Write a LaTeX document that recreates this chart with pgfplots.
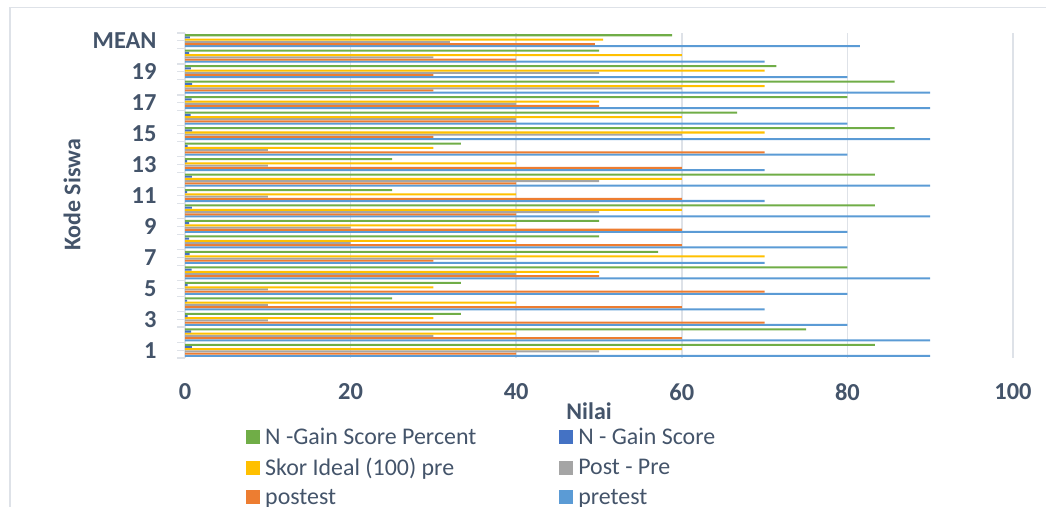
\documentclass[border=0pt]{standalone}
\usepackage{pgfplots}
\pgfplotsset{compat=1.18}
\usepackage{pgfplotstable}
\usepackage{fontspec}
\setmainfont{Carlito}
\definecolor{cpre}{HTML}{5B9BD5}
\definecolor{cpost}{HTML}{ED7D31}
\definecolor{cdiff}{HTML}{A5A5A5}
\definecolor{cideal}{HTML}{FFC000}
\definecolor{cng}{HTML}{4472C4}
\definecolor{cngp}{HTML}{70AD47}
\definecolor{txt}{HTML}{44546A}
\definecolor{gridc}{RGB}{222,226,232}
\pgfplotstableread{
cat pre post diff ideal ng ngp
1 90 40 50 60 0.83 83.33
2 90 60 30 40 0.75 75
3 80 70 10 30 0.33 33.33
4 70 60 10 40 0.25 25
5 80 70 10 30 0.33 33.33
6 90 50 40 50 0.8 80
7 70 30 40 70 0.57 57.14
8 80 60 20 40 0.5 50
9 80 60 20 40 0.5 50
10 90 40 50 60 0.83 83.33
11 70 60 10 40 0.25 25
12 90 40 50 60 0.83 83.33
13 70 60 10 40 0.25 25
14 80 70 10 30 0.33 33.33
15 90 30 60 70 0.86 85.71
16 80 40 40 60 0.67 66.67
17 90 50 40 50 0.8 80
18 90 30 60 70 0.86 85.71
19 80 30 50 70 0.71 71.43
20 70 40 30 60 0.5 50
21 81.5 49.5 32 50.5 0.59 58.82
}\data
\begin{document}
\begin{tikzpicture}
\useasboundingbox (0bp,0bp) rectangle (1046bp,-507bp);
\draw[gridc, line width=1.5bp] (10bp,-507bp) -- (10bp,-7.5bp) -- (1046bp,-7.5bp);
\begin{axis}[
  at={(185bp,-358bp)}, anchor=south west,
  scale only axis, width=828bp, height=325bp,
  xmin=0, xmax=100, ymin=0.5, ymax=21.5,
  axis lines=left,
  axis line style={-},
  x axis line style={draw=none},
  y axis line style={draw=gridc, line width=1.2bp},
  xtick={0,20,40,60,80,100},
  xticklabels={0,20,40,60,80,100},
  xtick style={draw=none},
  xmajorgrids,
  major grid style={draw=gridc, line width=1.5bp},
  ytick={0.5,1.5,...,21.5},
  yticklabels={},
  ytick style={draw=gridc, line width=1.2bp},
  tick align=outside,
  major tick length=8bp,
  extra y ticks={1,3,5,7,9,11,13,15,17,19,21},
  extra y tick labels={1,3,5,7,9,11,13,15,17,19,MEAN},
  extra y tick style={tick style={draw=none}, ymajorgrids=false},
  ticklabel style={font=\fontsize{24.5}{28}\selectfont\bfseries, text=txt},
  xticklabel style={yshift=-14bp},
  yticklabel style={xshift=-17bp},
  xlabel={Nilai}, ylabel={Kode Siswa},
  label style={font=\fontsize{24}{28}\selectfont\bfseries, text=txt},
  xlabel style={at={(axis description cs:0.488,-0.165)}, anchor=center},
  ylabel style={at={(axis description cs:-0.1365,0.5015)}, anchor=center},
  reverse legend,
  legend columns=2,
  legend cell align=left,
  legend image code/.code={\path[#1,draw=none] (0bp,-7bp) rectangle (14bp,7bp);},
  legend style={at={(axis description cs:0.0737,-0.209)}, anchor=north west,
    draw=none, fill=none, inner sep=0pt,
    font=\fontsize{24}{28}\selectfont, text=txt,
    row sep=8bp,
    /tikz/every odd column/.append style={column sep=3bp},
    /tikz/every even column/.append style={column sep=81bp}},
]
\addplot[xbar, fill=cpre, draw=none, bar width=0.13, bar shift=-0.355] table[x=pre, y=cat]{\data};
\addlegendentry{pretest}
\addplot[xbar, fill=cpost, draw=none, bar width=0.13, bar shift=-0.213] table[x=post, y=cat]{\data};
\addlegendentry{postest}
\addplot[xbar, fill=cdiff, draw=none, bar width=0.13, bar shift=-0.071] table[x=diff, y=cat]{\data};
\addlegendentry{Post - Pre}
\addplot[xbar, fill=cideal, draw=none, bar width=0.13, bar shift=0.071] table[x=ideal, y=cat]{\data};
\addlegendentry{Skor Ideal (100) pre}
\addplot[xbar, fill=cng, draw=none, bar width=0.13, bar shift=0.213] table[x=ng, y=cat]{\data};
\addlegendentry{N - Gain Score}
\addplot[xbar, fill=cngp, draw=none, bar width=0.13, bar shift=0.355] table[x=ngp, y=cat]{\data};
\addlegendentry{N -Gain Score Percent}
\end{axis}
\end{tikzpicture}
\end{document}
